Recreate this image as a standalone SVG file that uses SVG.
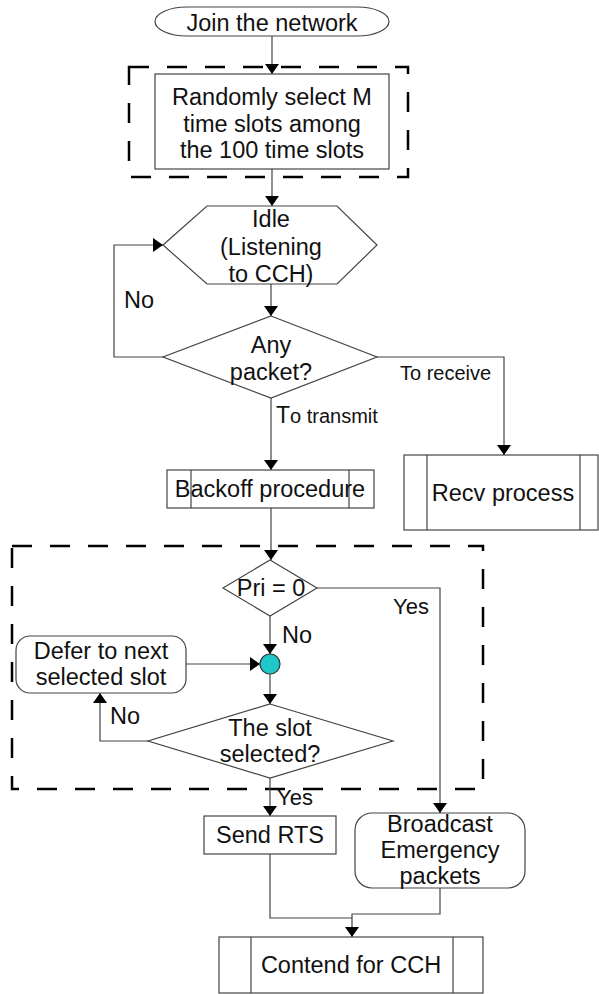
<svg xmlns="http://www.w3.org/2000/svg" width="599" height="994" viewBox="0 0 599 994">
<defs>
<marker id="arr" viewBox="0 0 10 14" refX="10" refY="7" markerWidth="10" markerHeight="14" markerUnits="userSpaceOnUse" orient="auto">
<path d="M0,0 L10,7 L0,14 z" fill="#000"/>
</marker>
</defs>
<style>
text{font-family:"Liberation Sans",Arial,sans-serif;font-size:23.5px;fill:#111;}
.c{text-anchor:middle;}
.s{font-size:20px;}
.shape{fill:#fff;stroke:#444;stroke-width:1.2;}
.conn{fill:none;stroke:#444;stroke-width:1.2;}
.arrow{marker-end:url(#arr);}
.dash{fill:none;stroke:#000;stroke-width:2.5;stroke-dasharray:20 18;}
</style>
<rect width="599" height="994" fill="#fff"/>

<g id="groups">
<rect class="dash" x="129" y="67" width="279" height="110"/>
<rect class="dash" x="12" y="546" width="471" height="243"/>
</g>

<g id="connectors">
<path class="conn arrow" d="M272,36 V74"/>
<path class="conn arrow" d="M272,169 V206"/>
<path class="conn arrow" d="M271,284 V316"/>
<path class="conn arrow" d="M163,357 H114 V245 H163"/>
<path class="conn arrow" d="M271,398 V470"/>
<path class="conn arrow" d="M377,357 H504 V455"/>
<path class="conn arrow" d="M271,508 V560"/>
<path class="conn arrow" d="M270,616 V654"/>
<path class="conn arrow" d="M186,664 H260"/>
<path class="conn arrow" d="M270,674 V704"/>
<path class="conn arrow" d="M148,741 H100 V693"/>
<path class="conn arrow" d="M270,778 V816"/>
<path class="conn arrow" d="M317,588 H440 V813"/>
<path class="conn" d="M270,854 V918 H352"/>
<path class="conn arrow" d="M440,888 V914 H352 V937"/>
</g>

<g id="join">
<rect class="shape" x="155" y="7" width="234" height="29" rx="32" ry="14.5"/>
<text class="c" x="272" y="31">Join the network</text>
</g>

<g id="select">
<rect class="shape" x="155" y="74" width="234" height="95"/>
<text class="c" x="272" y="105">Randomly select M</text>
<text class="c" x="272" y="132">time slots among</text>
<text class="c" x="272" y="158">the 100 time slots</text>
</g>

<g id="idle">
<polygon class="shape" points="163,245 207,206 337,206 377,245 337,284 207,284"/>
<text class="c" x="271" y="227">Idle</text>
<text class="c" x="271" y="255">(Listening</text>
<text class="c" x="271" y="282">to CCH)</text>
</g>

<g id="any-packet">
<polygon class="shape" points="271,316 377,357 271,398 163,357"/>
<text class="c" x="271" y="353">Any</text>
<text class="c" x="271" y="380">packet?</text>
</g>

<g id="labels">
<text x="124" y="308">No</text>
<text x="276" y="423" class="s"><tspan style="font-size:23px">T</tspan>o transmit</text>
<text x="400" y="380" class="s">To receive</text>
<text x="282" y="643">No</text>
<text x="393" y="614" style="font-size:22px">Yes</text>
<text x="110" y="724">No</text>
<text x="277" y="805" style="font-size:22px">Yes</text>
</g>

<g id="recv">
<rect class="shape" x="404" y="455" width="194" height="75"/>
<path class="conn" d="M427,455 V530 M580,455 V530"/>
<text class="c" x="503" y="501">Recv process</text>
</g>

<g id="backoff">
<rect class="shape" x="167" y="470" width="207" height="38"/>
<path class="conn" d="M191,470 V508 M349,470 V508"/>
<text class="c" x="270" y="497">Backoff procedure</text>
</g>

<g id="pri">
<polygon class="shape" points="270,560 317,588 270,616 223,588"/>
<text class="c" x="271" y="596">Pri = 0</text>
</g>

<g id="junction">
<circle cx="270" cy="664" r="10" fill="#1ec8c8" stroke="#333" stroke-width="1.2"/>
</g>

<g id="defer">
<rect class="shape" x="16" y="636" width="170" height="57" rx="14" ry="14"/>
<text class="c" x="101" y="659">Defer to next</text>
<text class="c" x="101" y="685">selected slot</text>
</g>

<g id="slot">
<polygon class="shape" points="270,704 393,741 270,778 148,741"/>
<text class="c" x="270" y="736">The slot</text>
<text class="c" x="270" y="762">selected?</text>
</g>

<g id="rts">
<rect class="shape" x="204" y="816" width="132" height="38"/>
<text class="c" x="270" y="843">Send RTS</text>
</g>

<g id="broadcast">
<rect class="shape" x="355" y="813" width="170" height="75" rx="17" ry="17"/>
<text class="c" x="440" y="832">Broadcast</text>
<text class="c" x="440" y="858">Emergency</text>
<text class="c" x="440" y="884">packets</text>
</g>

<g id="contend">
<rect class="shape" x="219" y="937" width="264" height="56"/>
<path class="conn" d="M251,937 V993 M453,937 V993"/>
<text class="c" x="351" y="973">Contend for CCH</text>
</g>
</svg>
